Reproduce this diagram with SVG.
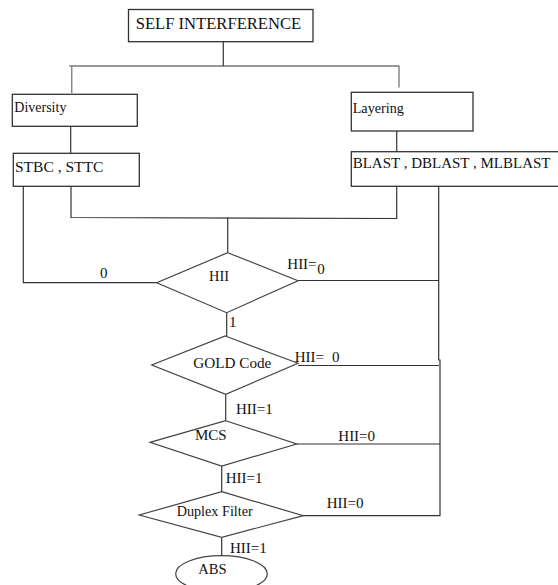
<svg xmlns="http://www.w3.org/2000/svg" width="558" height="585" viewBox="0 0 558 585" font-size="15">
<style>
text{font-family:"Liberation Serif","Times New Roman",serif;fill:#111}
.box{fill:#fff;stroke:#333;stroke-width:1.3}
.dia{fill:#fff;stroke:#444;stroke-width:1.2}
.ln{fill:none;stroke:#333;stroke-width:1.2}
.gr{fill:none;stroke:#888;stroke-width:1.5}
</style>
<rect width="558" height="585" fill="#fff"/>
<g id="connectors">
<line class="ln" x1="223.3" y1="41.7" x2="223.3" y2="66"/>
<line class="ln" x1="69.3" y1="66" x2="399.3" y2="66"/>
<line class="gr" x1="71.7" y1="66" x2="71.7" y2="93"/>
<line class="gr" x1="399" y1="66" x2="399" y2="87.5"/>
<line class="ln" x1="70.7" y1="126.3" x2="70.7" y2="153.3"/>
<line class="ln" x1="396.7" y1="131" x2="396.7" y2="151.7"/>
<polyline class="ln" points="71,186.3 71,217.5 396.7,218.5 396.7,186.3"/>
<line class="ln" x1="227.7" y1="217.5" x2="227.7" y2="252.7"/>
<polyline class="ln" points="23.3,186.3 23.3,282.7 156.7,282.7"/>
<line class="ln" x1="298" y1="280.5" x2="439" y2="280.5"/>
<polyline class="ln" points="438.7,186.3 438.7,360 440,360 440,515.7 303.3,515.7"/>
<line class="ln" x1="298" y1="365.5" x2="439" y2="365.5"/>
<line class="ln" x1="296.7" y1="444" x2="440" y2="444"/>
<line class="ln" x1="226.7" y1="312.7" x2="226.7" y2="336"/>
<line class="ln" x1="225.7" y1="394.3" x2="225.7" y2="420.7"/>
<line class="ln" x1="221.7" y1="466" x2="221.7" y2="491.7"/>
<line class="ln" x1="221.7" y1="537.3" x2="221.7" y2="555.7"/>
<text x="100" y="278.3">0</text>
<text x="287.3" y="269">HII=</text>
<text x="317.3" y="274">0</text>
<text x="229" y="326.7">1</text>
<text x="294.7" y="361.7">HII=</text>
<text x="332" y="361.7">0</text>
<text x="236" y="414">HII=1</text>
<text x="338.3" y="440.7">HII=0</text>
<text x="225.7" y="483.3">HII=1</text>
<text x="326.7" y="508.3">HII=0</text>
<text x="230" y="552.7">HII=1</text>
</g>
<g id="self-interference">
<rect class="box" x="128.5" y="9.5" width="184.5" height="32.2"/>
<text x="135.7" y="29.3" font-size="16.6">SELF INTERFERENCE</text>
</g>
<g id="diversity">
<rect class="box" x="12.3" y="94.3" width="125" height="32"/>
<text x="14.3" y="112.3" font-size="14">Diversity</text>
</g>
<g id="layering">
<rect class="box" x="351.3" y="92.3" width="121.7" height="38.7"/>
<text x="352.7" y="113.3" font-size="14.2">Layering</text>
</g>
<g id="stbc">
<rect class="box" x="13.3" y="153.3" width="126" height="33"/>
<text x="15" y="172.3" font-size="15.5">STBC , STTC</text>
</g>
<g id="blast">
<rect class="box" x="351.3" y="151.7" width="210" height="34.6"/>
<text x="352.7" y="168.3">BLAST , DBLAST , MLBLAST</text>
</g>
<g id="hii">
<polygon class="dia" points="227.7,252.7 298,280.7 226.7,312.7 156.7,282.7"/>
<text x="209" y="281" font-size="14.4">HII</text>
</g>
<g id="gold-code">
<polygon class="dia" points="225.3,336 298,363.3 225.7,394.3 151.7,365"/>
<text x="193.3" y="368.3" font-size="15.2">GOLD Code</text>
</g>
<g id="mcs">
<polygon class="dia" points="225.7,420.7 296.7,444 221.7,466 150,442.3"/>
<text x="195" y="440">MCS</text>
</g>
<g id="duplex-filter">
<polygon class="dia" points="221.7,491.7 303.3,515.7 221.7,537.3 139.3,515"/>
<text x="176.7" y="516" font-size="14.2">Duplex Filter</text>
</g>
<g id="abs">
<ellipse class="dia" cx="221.5" cy="573.8" rx="45.8" ry="18.1"/>
<text x="198.3" y="574" font-size="14.6">ABS</text>
</g>
</svg>
